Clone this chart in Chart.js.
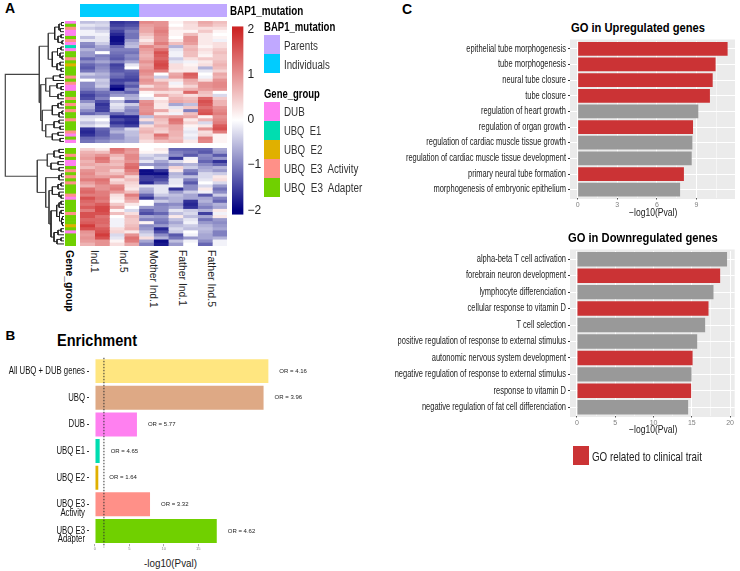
<!DOCTYPE html>
<html>
<head>
<meta charset="utf-8">
<title>BAP1 figure</title>
<script src="https://cdn.jsdelivr.net/npm/chart.js@4/dist/chart.umd.min.js"></script>
<style>
  html, body { margin: 0; padding: 0; background: #fff; }
  #page { position: relative; width: 740px; height: 571px; overflow: hidden; }
  canvas { position: absolute; }
  .t { position: absolute; white-space: pre; color: #111; line-height: 1; font-family: "Liberation Sans", Arial, sans-serif; }
  .box { position: absolute; }
</style>
</head>
<body>
<div id="page"></div>
<script>
// panel A, heatmap: one row per gene, columns in picture order
const sampleLabels = ["Ind.1", "Ind.5", "Mother Ind.1", "Father Ind.1", "Father Ind.5"];
const heatTop = [
  [-0.5,-0.4,-1.6,-1.5,1.1,1.0,0.1,0.4,0.8,0.6],
  [-0.2,-0.3,-1.5,-1.4,0.9,1.0,0.0,0.3,0.7,0.5],
  [-0.4,-0.5,-1.3,-1.2,0.8,1.1,0.2,0.3,0.3,0.3],
  [-0.1,-0.3,-1.5,-1.0,0.8,1.2,0.1,0.1,0.5,0.1],
  [-0.1,-0.1,-1.7,-1.1,0.6,1.1,0.1,0.6,0.2,0.0],
  [-0.5,-0.2,-1.9,-1.1,0.4,1.0,0.0,1.0,0.2,0.1],
  [-0.2,-0.2,-1.9,-0.8,0.2,1.0,0.2,1.0,0.2,-0.1],
  [-0.9,-0.4,-1.8,-0.6,0.5,1.2,0.6,0.9,0.2,0.3],
  [-1.0,-0.7,-1.2,-0.5,1.1,0.9,-0.6,0.6,0.1,0.3],
  [-0.6,-0.8,-1.0,-1.0,0.9,1.3,-0.2,0.7,0.3,0.5],
  [-0.8,0.0,-1.1,-1.1,0.8,1.6,-0.1,0.6,0.2,0.6],
  [-0.8,-1.0,-1.2,-0.9,0.7,1.5,-0.1,0.6,0.1,0.5],
  [-1.2,-0.9,-1.3,-1.0,0.8,1.4,-0.4,0.3,0.5,0.5],
  [-0.9,-0.7,-1.0,-0.7,1.0,1.6,-0.2,-0.1,0.2,0.6],
  [-1.2,-1.0,-1.5,-0.2,0.8,1.7,0.3,0.1,0.3,0.7],
  [-1.3,-0.9,-1.4,0.0,0.9,1.6,0.3,0.2,-0.6,0.6],
  [-1.1,-0.8,-1.3,-1.2,1.1,1.2,0.2,0.2,-0.2,0.4],
  [-0.4,-0.6,-1.1,-1.3,1.0,0.0,0.8,1.5,0.0,0.8],
  [-0.7,-0.7,-1.2,-1.4,0.8,-0.4,0.9,1.4,-0.1,0.7],
  [0.0,-0.4,-1.5,-1.5,1.0,0.4,0.3,0.8,0.3,1.0],
  [-0.9,-0.5,-1.4,-1.1,0.9,0.8,-0.1,0.7,1.0,1.1],
  [-0.9,-0.4,-1.8,-1.3,0.3,0.7,0.1,0.4,1.0,1.1],
  [-1.0,-0.8,-2.0,-0.9,0.8,0.8,0.6,0.7,0.9,1.0],
  [-1.3,-1.1,-1.0,-1.2,0.1,0.3,0.3,1.4,0.6,0.0],
  [-1.5,-1.2,-0.8,-0.7,0.0,0.8,0.5,0.3,0.5,-0.3],
  [-1.4,-1.0,0.0,-0.6,-0.2,0.1,0.7,0.6,1.4,0.5],
  [-0.9,-1.4,-0.5,-1.3,1.0,0.3,0.8,0.7,1.6,0.7],
  [-0.5,-1.6,-0.2,-0.4,1.1,0.2,-0.7,-0.5,1.5,0.7],
  [-0.6,-1.5,-0.3,-0.8,1.0,0.2,-0.2,0.5,1.3,1.0],
  [-0.9,-1.5,-0.5,-1.0,1.0,0.8,0.2,-1.0,1.5,1.1],
  [-1.2,-1.0,-1.2,-0.9,1.1,0.2,-0.1,0.6,1.6,1.2],
  [-0.3,-0.3,-1.7,-1.7,-0.5,0.8,0.9,0.8,0.1,1.0],
  [-0.2,0.0,-1.4,-1.6,0.3,0.6,1.3,0.2,0.7,1.1],
  [-0.5,-0.3,-1.6,-1.7,-0.6,0.5,1.2,0.4,-0.3,1.2],
  [-0.3,-0.1,-1.3,-1.5,0.3,0.7,0.8,0.1,0.2,1.5],
  [-1.6,-1.2,-0.8,-0.3,0.6,0.5,0.8,-0.1,1.0,1.6],
  [-1.7,-1.3,-0.6,-0.5,0.7,0.4,0.7,-0.2,0.3,1.2],
  [-1.6,-1.3,-0.9,-0.5,0.5,1.3,0.7,-0.1,0.4,0.1],
  [-1.2,-1.1,-0.9,-0.6,0.5,1.0,0.6,-0.2,1.2,0.1],
  [-1.1,-0.9,-0.7,-0.6,0.3,0.6,0.7,0.2,1.1,0.1]
];
const heatBottom = [
  [0.4,0.2,1.3,1.0,0.0,0.2,-1.2,-1.2,-1.2,-0.7],
  [0.7,0.6,1.2,0.9,0.1,0.1,-1.0,-1.1,-1.3,-0.8],
  [0.8,1.0,0.7,1.1,-0.3,-0.5,-0.9,-1.3,-0.9,-1.3],
  [0.9,1.3,0.5,1.1,-0.5,-0.3,-1.6,-0.1,-1.0,-0.8],
  [0.7,1.2,0.7,1.0,-0.2,-0.7,-0.3,0.1,-1.2,-1.6],
  [0.8,0.7,0.6,1.3,-0.8,-0.9,-0.7,-0.6,-0.9,-1.2],
  [0.6,0.8,0.8,1.4,0.0,-0.7,0.4,-0.4,-0.7,-0.6],
  [1.0,0.8,0.4,1.2,-1.9,-1.6,0.2,-1.0,-0.6,-0.8],
  [1.1,0.7,0.6,1.0,-1.9,-1.9,-0.6,-1.2,-0.3,-0.4],
  [1.0,0.9,1.0,0.4,-1.5,-1.6,-0.5,-0.5,-0.3,0.2],
  [1.2,1.3,0.3,0.6,-1.5,-1.4,-0.2,-1.0,-0.2,0.3],
  [0.9,1.2,0.5,0.4,-1.7,-1.1,-0.2,-1.3,0.0,-0.3],
  [0.7,1.0,1.1,0.3,-0.2,-0.2,-0.1,-0.9,-0.3,-0.8],
  [1.3,1.0,1.2,0.2,-0.6,-0.2,-1.6,-0.9,0.2,-1.1],
  [1.4,1.2,0.9,0.6,-0.7,-0.2,-0.8,-0.4,-0.1,-0.9],
  [1.2,1.2,0.3,1.2,-1.2,-0.4,-0.5,-0.7,-1.3,-0.4],
  [1.6,1.3,0.2,0.9,-1.6,-0.8,-0.6,-0.7,-0.7,-1.0],
  [1.4,1.2,0.1,0.7,0.0,-0.4,-0.6,-1.6,-0.6,-1.2],
  [1.3,1.5,0.5,0.2,0.0,-1.0,-0.9,-1.7,-0.8,-0.6],
  [1.5,1.7,0.8,0.0,-0.8,-0.9,-0.7,-1.6,-1.0,-0.7],
  [1.2,1.7,0.1,-0.3,-1.2,-0.9,-0.2,-0.4,-0.6,0.2],
  [1.6,1.6,0.6,0.3,-1.4,-1.2,-0.5,-0.3,-1.5,-0.1],
  [1.6,1.3,0.0,0.6,-0.7,-0.8,0.2,-0.5,-0.7,0.2],
  [1.4,1.4,-0.1,0.5,-1.0,-1.0,-0.5,-0.2,-1.1,-0.8],
  [1.5,1.4,-0.1,0.5,0.1,-1.1,-0.7,-0.1,-0.8,-0.9],
  [1.8,1.3,-0.1,0.6,-0.9,-0.8,-0.5,-0.4,-0.6,-0.8],
  [1.6,1.5,0.3,0.7,-0.8,-1.7,-0.3,-0.5,-0.5,-0.7],
  [1.0,1.6,0.4,0.2,-0.5,-1.4,-0.4,0.0,-0.6,-1.0],
  [0.9,1.8,-0.3,1.0,-0.3,-0.9,-1.3,-0.1,-0.7,-1.0],
  [1.0,1.6,-0.2,1.3,0.3,-0.6,-1.1,-0.8,-0.7,-0.6],
  [0.9,1.0,0.1,1.2,-0.7,-1.9,-0.5,-0.1,-0.9,-0.1],
  [0.7,1.0,0.3,0.8,-1.0,-1.8,-0.8,0.0,-1.2,-0.1]
];
// gene group of each row: D=DUB 1=E1 2=E2 A=E3 Activity P=E3 Adapter
const groupTop = "DPADDPAD1DPPAP2PPPAPADDPPAPAPAPPAPPPADPD".split("");
const groupBottom = "PPAPDDPAPAPAPPPADPPPPAPPP2PDPPPP".split("");
// dendrogram: [height, child, child], a number is a row
const treeTop = [24.7,
  [15.7,
    [9.3, [5, [2.5, 0, 1], [3.5, 2, 3]], [6, [3, 4, 5], [2, 6, 7]]],
    [11.7, [6.5, [3, 8, 9], [4, 10, [2, 11, 12]]], [7, [4, 13, 14], [3, 15, 16]]]],
  [23.3,
    [18.3,
      [10.7, [4, 17, 18], 19],
      [14.3, [7, 20, [3, 21, 22]], [6, [3, 23, 24], 25]]],
    [21.7,
      [11.7, [6, [3, 26, 27], 28], [5, [2, 29, 30], 31]],
      [18.3, [10, [5, 32, 33], [4, 34, 35]], [11.7, [6, 36, 37], [4, 38, 39]]]]]];
const treeBottom = [26.7,
  [16.7, [10, [5, 40, 41], [4, 42, 43]], [13, [6, 44, 45], [5, 46, 47]]],
  [18.3,
    [5, [2.5, 48, 49], 50],
    [15,
      [11.7, [6, [3, 51, 52], 53], [5, 54, [3, 55, 56]]],
      [13,
        [7.3, [5, [3, 57, 58], 59], [4.5, [3, 60, 61], [2.5, [1.5, 62, 63], [1.5, 64, 65]]]],
        [10, [6, [3, 66, 67], 68], [7, [3, 69, 70], 71]]]]]];
const treeRoot = [58.7, treeTop, treeBottom];

const mutationNames = ["Individuals", "Parents"];
const mutationCounts = [4, 6];
const colorbarTicks = [-2, -1, 0, 1, 2];

// panel B
const enrichLabels = ["All UBQ + DUB genes", "UBQ", "DUB", "UBQ E1", "UBQ E2", ["UBQ E3", "Activity"], ["UBQ E3", "Adapter"]];
const enrichValues = [25.2, 24.5, 6.1, 0.68, 0.48, 8.0, 17.7];
const enrichOr = ["OR = 4.16", "OR = 3.96", "OR = 5.77", "OR = 4.65", "OR = 1.64", "OR = 3.32", "OR = 4.62"];
const enrichColors = ["#FFE680", "#DEA985", "#FF80F0", "#00DDB0", "#E0B000", "#FF9088", "#70D000"];
const enrichTicks = [0, 5, 10, 15];
const enrichCutoff = 1.3;

// panel C
const upLabels = ["epithelial tube morphogenesis", "tube morphogenesis", "neural tube closure", "tube closure", "regulation of heart growth", "regulation of organ growth", "regulation of cardiac muscle tissue growth", "regulation of cardiac muscle tissue development", "primary neural tube formation", "morphogenesis of embryonic epithelium"];
const upValues = [11.36, 10.45, 10.23, 10.02, 9.14, 8.74, 8.69, 8.64, 8.05, 7.76];
const upClinical = [1, 1, 1, 1, 0, 1, 0, 0, 1, 0];
const upMajor = [0, 3, 6, 9];
const upMinor = [1.5, 4.5, 7.5, 10.5];
const downLabels = ["alpha-beta T cell activation", "forebrain neuron development", "lymphocyte differenciation", "cellular response to vitamin D", "T cell selection", "positive regulation of response to external stimulus", "autonomic nervous system development", "negative regulation of response to external stimulus", "response to vitamin D", "negative regulation of fat cell differenciation"];
const downValues = [19.6, 18.7, 17.83, 17.18, 16.74, 15.7, 15.1, 14.96, 14.91, 14.52];
const downClinical = [0, 1, 0, 1, 0, 0, 1, 0, 1, 0];
const downMajor = [0, 5, 10, 15, 20];
const downMinor = [2.5, 7.5, 12.5, 17.5];

const FONT = "'Liberation Sans', Arial, sans-serif";
const RED = "#CB3335";
const GREY = "#999999";
const groupColors = { D: "#FF80F0", 1: "#00DDB0", 2: "#E0B000", A: "#FF9088", P: "#70D000" };
const page = document.getElementById("page");

function heatColor(v) {
  const c = Math.max(-2, Math.min(2, v)) / 2;
  const end = c < 0 ? [0, 0, 128] : [205, 38, 38];
  const a = Math.abs(c);
  return "rgb(" + end.map((e) => Math.round(255 + (e - 255) * a)).join(",") + ")";
}

function addCanvas(left, top, width, height) {
  const cv = document.createElement("canvas");
  cv.width = width;
  cv.height = height;
  cv.style.left = left + "px";
  cv.style.top = top + "px";
  cv.style.width = width + "px";
  cv.style.height = height + "px";
  page.appendChild(cv);
  return cv;
}

// text placed by its left edge and middle, squeezed to the width it has in the figure
function addText(text, x, y, size, opts) {
  const o = opts || {};
  const el = document.createElement("div");
  el.className = "t";
  el.textContent = text;
  el.style.fontSize = size + "px";
  if (o.bold) el.style.fontWeight = "bold";
  if (o.color) el.style.color = o.color;
  el.style.left = x + "px";
  el.style.top = y + "px";
  if (o.vertical) el.style.writingMode = "vertical-rl";
  page.appendChild(el);
  let sx = 1;
  if (o.w) sx = o.w / (o.vertical ? el.offsetHeight : el.offsetWidth);
  el.style.transformOrigin = "left top";
  if (o.vertical) {
    el.style.transform = "translate(-50%,0) scaleY(" + sx + ")";
  } else {
    el.style.transform = "translate(0,-50%) scaleX(" + sx + ")";
  }
}

function addBox(x, y, w, h, color) {
  const el = document.createElement("div");
  el.className = "box";
  el.style.cssText = "left:" + x + "px;top:" + y + "px;width:" + w + "px;height:" + h + "px;background:" + color;
  page.appendChild(el);
}

const base = {
  responsive: false,
  animation: false,
  events: [],
  layout: { padding: 0, autoPadding: false },
  plugins: { legend: { display: false }, tooltip: { enabled: false }, title: { display: false } }
};

function stackedCells(cv, rowCount, datasets, xMax) {
  return new Chart(cv, {
    type: "bar",
    data: { labels: Array.from({ length: rowCount }, (_, i) => i), datasets },
    options: Object.assign({}, base, {
      indexAxis: "y",
      scales: {
        x: { display: false, stacked: true, min: 0, max: xMax },
        y: { display: false, stacked: true }
      }
    })
  });
}

function heatChart(rows, top, height) {
  const datasets = rows[0].map((_, c) => ({
    data: rows.map(() => 1),
    backgroundColor: rows.map((r) => heatColor(r[c])),
    barPercentage: 1,
    categoryPercentage: 1
  }));
  stackedCells(addCanvas(79.5, top, 147, height), rows.length, datasets, rows[0].length);
}

function groupChart(groups, top, height) {
  const datasets = [{
    data: groups.map(() => 1),
    backgroundColor: groups.map((g) => groupColors[g]),
    barPercentage: 1,
    categoryPercentage: 1
  }];
  stackedCells(addCanvas(65, top, 11, height), groups.length, datasets, 1);
}

heatChart(heatTop, 21, 122);
heatChart(heatBottom, 148, 98);
groupChart(groupTop, 21, 122);
groupChart(groupBottom, 148, 98);

// annotation strip over the heatmap
stackedCells(addCanvas(79.5, 3.5, 147, 13), 1, [
  { data: [mutationCounts[0]], backgroundColor: "#00CCFF", barPercentage: 1, categoryPercentage: 1 },
  { data: [mutationCounts[1]], backgroundColor: "#C0A8FF", barPercentage: 1, categoryPercentage: 1 }
], mutationCounts[0] + mutationCounts[1]);

// dendrogram
const treeSets = [];
function rowPos(r) { return r < 40 ? r : r + 1.6; }
function walk(node) {
  if (typeof node === "number") return { h: 0, y: rowPos(node) };
  const a = walk(node[1]);
  const b = walk(node[2]);
  treeSets.push({
    data: [{ x: a.h, y: a.y }, { x: node[0], y: a.y }, { x: node[0], y: b.y }, { x: b.h, y: b.y }],
    showLine: true,
    pointRadius: 0,
    borderWidth: node[0] > 30 ? 1.2 : 1,
    borderColor: node[0] > 14 ? "#444" : "#222",
    tension: 0
  });
  return { h: node[0], y: (a.y + b.y) / 2 };
}
walk(treeRoot);
new Chart(addCanvas(4, 21, 60, 226), {
  type: "scatter",
  data: { datasets: treeSets },
  options: Object.assign({}, base, {
    scales: {
      x: { display: false, reverse: true, min: 0, max: 60 },
      y: { display: false, reverse: true, min: -0.5, max: 73.6 }
    }
  })
});

// colour key
new Chart(addCanvas(231.7, 15, 42, 211), {
  type: "bar",
  data: {
    labels: ["key"],
    datasets: [{
      data: [[-2.1, 2.08]],
      barPercentage: 1,
      categoryPercentage: 1,
      inflateAmount: 0,
      backgroundColor: (ctx) => {
        const s = ctx.chart.scales.y;
        const y0 = s ? s.getPixelForValue(2) : NaN;
        const y1 = s ? s.getPixelForValue(-2) : NaN;
        if (!isFinite(y0) || !isFinite(y1)) return "#fff";
        const g = ctx.chart.ctx.createLinearGradient(0, y0, 0, y1);
        g.addColorStop(0, heatColor(2));
        g.addColorStop(0.25, heatColor(1));
        g.addColorStop(0.5, heatColor(0));
        g.addColorStop(0.75, heatColor(-1));
        g.addColorStop(1, heatColor(-2));
        return g;
      }
    }]
  },
  options: Object.assign({}, base, {
    layout: { padding: { top: 0.5, bottom: 0.5 }, autoPadding: false },
    scales: {
      x: { display: false },
      y: {
        position: "right",
        min: -2.1,
        max: 2.08,
        afterBuildTicks: (s) => { s.ticks = colorbarTicks.map((v) => ({ value: v })); },
        afterFit: (s) => { s.width = 30.4; },
        grid: { display: false, drawTicks: false },
        border: { display: false },
        ticks: {
          padding: 4,
          color: "#222",
          font: { family: FONT, size: 12 },
          callback: (v) => String(v).replace("-", "\u2212")
        }
      }
    }
  })
});

// the figure's tick labels are narrower than any installed face: squeeze them when drawing
function squeezedLabels(size, squeeze, color, gap, lineStep) {
  return {
    id: "squeezedLabels",
    afterDraw(chart) {
      const { ctx, scales, chartArea } = chart;
      chart.data.labels.forEach((label, i) => {
        const lines = [].concat(label);
        lines.forEach((line, k) => {
          ctx.save();
          ctx.translate(chartArea.left - gap, scales.y.getPixelForValue(i) + k * lineStep);
          ctx.scale(squeeze, 1);
          ctx.font = size + "px " + FONT;
          ctx.fillStyle = color;
          ctx.textAlign = "right";
          ctx.textBaseline = "middle";
          ctx.fillText(line, 0, 0);
          ctx.restore();
        });
      });
    }
  };
}

// panel B: cut-off line and OR notes are drawn through the chart's scales
const enrichPlugin = {
  id: "enrichNotes",
  afterDatasetsDraw(chart) {
    const { ctx, scales } = chart;
    ctx.save();
    ctx.font = "6px " + FONT;
    ctx.fillStyle = "#222";
    ctx.textBaseline = "middle";
    enrichOr.forEach((t, i) => {
      ctx.fillText(t, scales.x.getPixelForValue(enrichValues[i]) + 11, scales.y.getPixelForValue(i));
    });
    const x = scales.x.getPixelForValue(enrichCutoff);
    ctx.strokeStyle = "#333";
    ctx.lineWidth = 1;
    ctx.setLineDash([1.5, 1.5]);
    ctx.beginPath();
    ctx.moveTo(x, chart.chartArea.top);
    ctx.lineTo(x, chart.chartArea.bottom + 3);
    ctx.stroke();
    ctx.restore();
  }
};
new Chart(addCanvas(0, 355, 310, 200), {
  type: "bar",
  data: {
    labels: enrichLabels,
    datasets: [{ data: enrichValues, backgroundColor: enrichColors, barPercentage: 0.9, categoryPercentage: 1 }]
  },
  options: Object.assign({}, base, {
    indexAxis: "y",
    layout: { padding: { top: 2.8 }, autoPadding: false },
    scales: {
      x: {
        min: -0.87,
        max: 31.25,
        afterBuildTicks: (s) => { s.ticks = enrichTicks.map((v) => ({ value: v })); },
        afterFit: (s) => { s.height = 10.7; },
        grid: { drawOnChartArea: false, tickLength: 2, color: "#aaa" },
        border: { display: false },
        ticks: { padding: 0, maxRotation: 0, color: "#888", font: { family: FONT, size: 4 } }
      },
      y: {
        afterFit: (s) => { s.width = 89; },
        grid: { drawOnChartArea: false, tickLength: 2, color: "#333", offset: false },
        border: { display: false },
        ticks: { display: false }
      }
    }
  }),
  plugins: [enrichPlugin, squeezedLabels(10.5, 0.74, "#111", 4, 8.3)]
});

// panel C: ggplot style grey panel
const panelPlugin = {
  id: "panel",
  beforeDraw(chart) {
    const a = chart.chartArea;
    const c = chart.ctx;
    c.save();
    c.fillStyle = "#EBEBEB";
    c.fillRect(a.left, a.top - 1.5, a.width, a.height + 3);
    c.restore();
  }
};
function goChart(top, height, plotBottomGap, labels, values, clinical, major, minor, xMin, xMax) {
  const all = major.concat(minor).sort((a, b) => a - b);
  new Chart(addCanvas(390, top, 345, height), {
    type: "bar",
    data: {
      labels,
      datasets: [{
        data: values,
        backgroundColor: clinical.map((c) => (c ? RED : GREY)),
        barPercentage: 0.88,
        categoryPercentage: 1
      }]
    },
    options: Object.assign({}, base, {
      indexAxis: "y",
      layout: { padding: { top: 2 }, autoPadding: false },
      scales: {
        x: {
          min: xMin,
          max: xMax,
          afterBuildTicks: (s) => { s.ticks = all.map((v) => ({ value: v })); },
          afterFit: (s) => { s.height = plotBottomGap; },
          grid: {
            color: "#fff",
            lineWidth: (ctx) => (ctx.tick && major.includes(ctx.tick.value) ? 1 : 0.5),
            tickLength: 2,
            tickColor: (ctx) => (ctx.tick && major.includes(ctx.tick.value) ? "#555" : "transparent")
          },
          border: { display: false },
          ticks: {
            padding: 1,
            maxRotation: 0,
            autoSkip: false,
            color: "#7F7F7F",
            font: { family: FONT, size: 7 },
            callback: (v) => (major.includes(v) ? String(v) : "")
          }
        },
        y: {
          afterFit: (s) => { s.width = 180; },
          grid: { color: "#fff", lineWidth: 1, offset: false, tickLength: 2, tickColor: "#333" },
          border: { display: false },
          ticks: { display: false }
        }
      }
    }),
    plugins: [panelPlugin, squeezedLabels(10, 0.75, "#222", 4, 0)]
  });
}
goChart(38.5, 170, 11.5, upLabels, upValues, upClinical, upMajor, upMinor, -0.58, 11.92);
goChart(248.5, 178, 11.5, downLabels, downValues, downClinical, downMajor, downMinor, -0.91, 20.6);

// text and legends
addText("A", 5, 8, 14, { bold: true, color: "#000" });
addText("B", 5.5, 335.5, 13.5, { bold: true, color: "#000" });
addText("C", 402, 8.5, 14, { bold: true, color: "#000" });

addText("BAP1_mutation", 230, 11, 12, { bold: true, w: 73, color: "#000" });
addText("BAP1_mutation", 264.3, 26.5, 12, { bold: true, w: 71, color: "#000" });
addBox(264.3, 35, 16, 19, "#C0A8FF");
addBox(264.3, 54, 16, 19, "#00CCFF");
addText("Parents", 283.7, 45.5, 12, { w: 33.5, color: "#333" });
addText("Individuals", 283.7, 64.5, 12, { w: 46, color: "#333" });
addText("Gene_group", 264.3, 93.5, 12, { bold: true, w: 56, color: "#000" });
[["DUB", "#FF80F0", 20.5], ["UBQ  E1", "#00DDB0", 37], ["UBQ  E2", "#E0B000", 38], ["UBQ  E3  Activity", "#FF9088", 74], ["UBQ  E3  Adapter", "#70D000", 78]].forEach((g, i) => {
  addBox(264.3, 101.7 + i * 19.1, 16, 19.1, g[1]);
  addText(g[0], 283.7, 112 + i * 19.1, 12, { w: g[2], color: "#333" });
});

addText("Gene_group", 69, 250, 11.5, { bold: true, vertical: true, w: 62, color: "#000" });
const labelWidths = [23, 23, 58, 56, 57];
sampleLabels.forEach((s, i) => {
  addText(s, 94 + i * 29.4, 250, 11.5, { vertical: true, w: labelWidths[i], color: "#222" });
});

addText("Enrichment", 56.7, 341, 16, { bold: true, w: 80, color: "#000" });
addText("-log10(Pval)", 144, 563.5, 11.5, { w: 53, color: "#222" });

addText("GO in Upregulated genes", 570.7, 28, 13.5, { bold: true, w: 134, color: "#000" });
addText("\u2212log10(Pval)", 629, 213, 10, { w: 48, color: "#222" });
addText("GO in Downregulated genes", 567.7, 238, 13.5, { bold: true, w: 150, color: "#000" });
addText("\u2212log10(Pval)", 629, 430, 10, { w: 48, color: "#222" });
addBox(572.7, 446, 16, 19, RED);
addText("GO related to clinical trait", 592, 456, 13, { w: 110, color: "#222" });
</script>
</body>
</html>
